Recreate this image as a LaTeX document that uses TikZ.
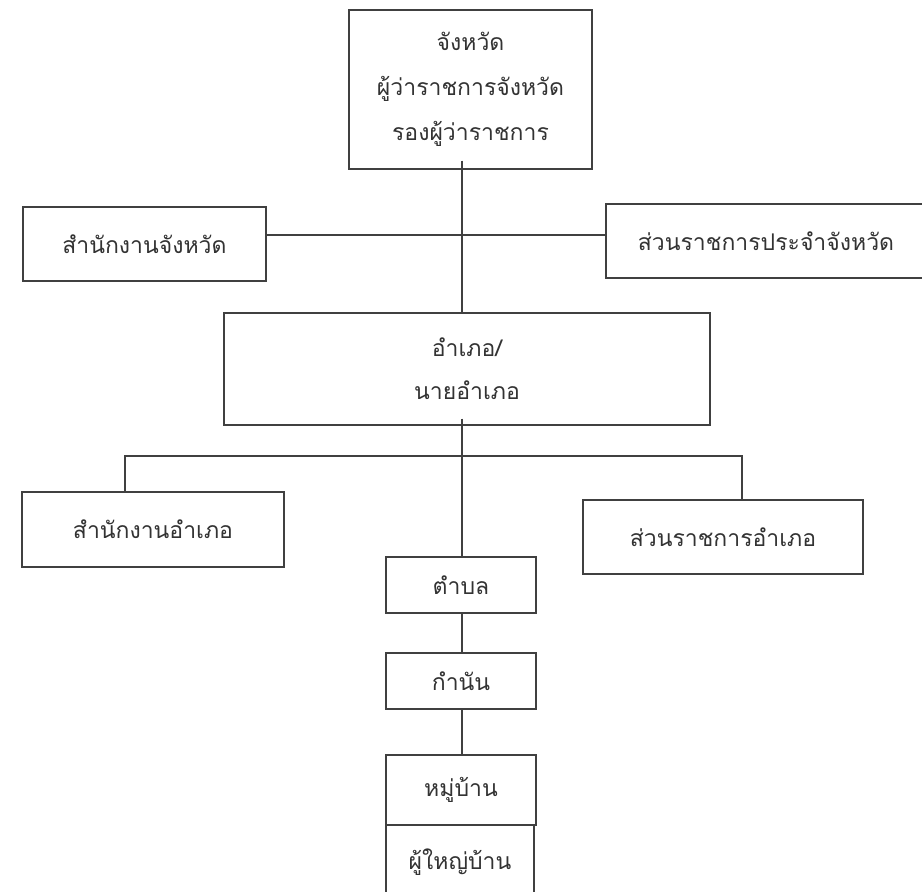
\documentclass[tikz,border=0pt]{standalone}
\usepackage{fontspec}
\newfontfamily\thaifont[Script=Thai]{Loma}
\begin{document}
\begin{tikzpicture}[x=1pt,y=-1pt,line width=1.4pt,draw=black!75]
    \tikzstyle{unit}=[rectangle,draw=black!75,line width=1.4pt,fill=white,inner sep=0pt,
        align=center,text=black!80,font=\thaifont\fontsize{23}{45}\selectfont]
    \useasboundingbox (0,0) rectangle (922,892);
    \clip (0,0) rectangle (922,892);

    \node[unit,minimum width=243pt,minimum height=159pt] (province) at (470.5,89.5)
        {จังหวัด\\ผู้ว่าราชการจังหวัด\\รองผู้ว่าราชการ};
    \node[unit,minimum width=243pt,minimum height=74pt] (provoffice) at (144.5,244) {สำนักงานจังหวัด};
    \node[unit,minimum width=320pt,minimum height=74pt] (provagency) at (766,241) {ส่วนราชการประจำจังหวัด};
    \node[unit,minimum width=486pt,minimum height=112pt,font=\thaifont\fontsize{23}{43}\selectfont] (district) at (467,369)
        {อำเภอ/\\นายอำเภอ};
    \node[unit,minimum width=262pt,minimum height=75pt] (distoffice) at (153,529.5) {สำนักงานอำเภอ};
    \node[unit,minimum width=280pt,minimum height=74pt] (distagency) at (723,537) {ส่วนราชการอำเภอ};

    \foreach \name/\y/\h/\txt in {tambon/585/56/ตำบล, kamnan/681/56/กำนัน, mooban/790/70/หมู่บ้าน}
        \node[unit,minimum width=150pt,minimum height=\h pt] (\name) at (461,\y) {\txt};
    \node[unit,minimum width=148pt,minimum height=74pt] (headman) at (460,862) {ผู้ใหญ่บ้าน};

    \coordinate (hubp) at (462,235);
    \coordinate (huba) at (462,456);
    \coordinate (dropl) at (125,456);
    \coordinate (dropr) at (742,456);

    \draw[shorten <=-9pt] (province.south -| hubp) -- (district.north -| hubp);
    \draw (provoffice.east |- hubp) -- (provagency.west |- hubp);
    \draw[shorten <=-7pt] (district.south -| huba) -- (tambon.north -| huba);
    \draw (distoffice.north -| dropl) -- (dropl) -- (dropr) -- (distagency.north -| dropr);

    \foreach \from/\to in {tambon/kamnan,kamnan/mooban}
        \draw (\from.south -| huba) -- (\to.north -| huba);
\end{tikzpicture}
\end{document}
